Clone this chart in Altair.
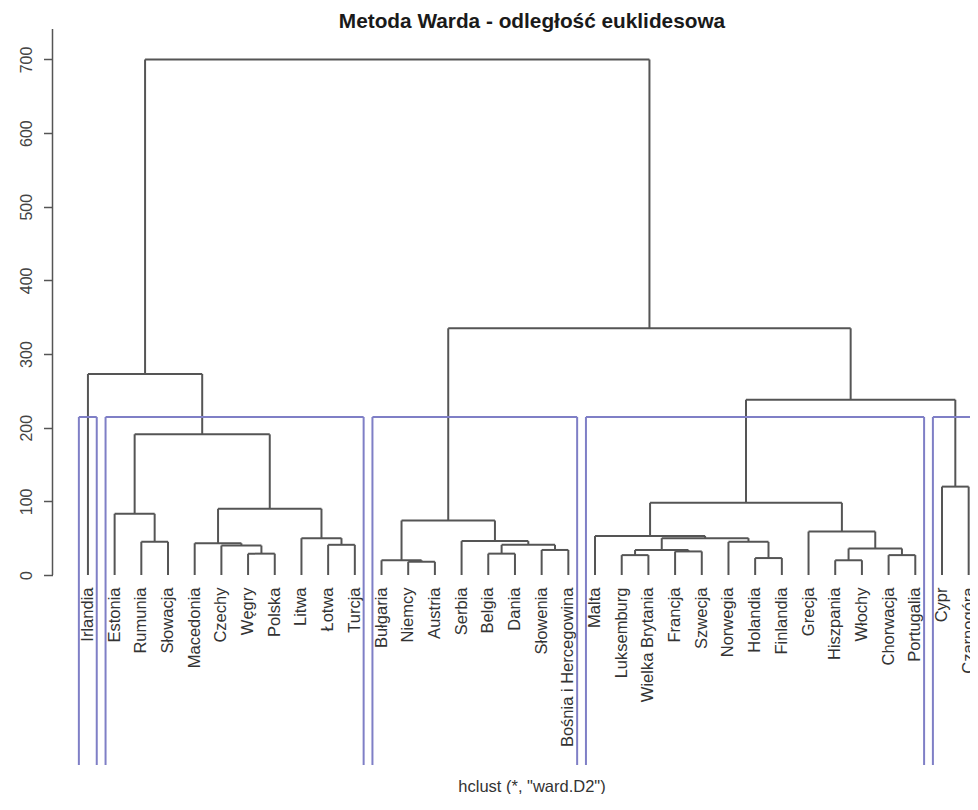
import altair as alt
import pandas as pd

# ---- data ----
labels = ["Irlandia", "Estonia", "Rumunia", "Słowacja", "Macedonia", "Czechy", "Węgry",
          "Polska", "Litwa", "Łotwa", "Turcja", "Bułgaria", "Niemcy", "Austria", "Serbia",
          "Belgia", "Dania", "Słowenia", "Bośnia i Hercegowina", "Malta", "Luksemburg",
          "Wielka Brytania", "Francja", "Szwecja", "Norwegia", "Holandia", "Finlandia",
          "Grecja", "Hiszpania", "Włochy", "Chorwacja", "Portugalia", "Cypr", "Czarnogóra"]

# hclust-style merges: negative = leaf (position in labels), positive = earlier merge
merge_left = [-3, -2, -7, -6, -5, -10, -9, 5, 2, -1,
              -13, -12, -16, -18, 13, -15, 12,
              -21, -23, 18, -26, -25, 20, -20, -29, -31, 25, -28, 24,
              -33, 29, 17, 10]
merge_right = [-4, 1, -8, 3, 4, -11, 6, 7, 8, 9,
               -14, 11, -17, -19, 14, 15, 16,
               -22, -24, 19, -27, 21, 22, 23, -30, -32, 26, 27, 28,
               -34, 30, 31, 32]
merge_height = [45, 83, 29, 40, 43, 41, 50, 90, 191, 273,
                18, 20, 29, 34, 41, 46, 74,
                27, 32, 34, 23, 45, 50, 53, 20, 27, 36, 59, 98,
                120, 238, 335, 700]

y_ticks = [0, 100, 200, 300, 400, 500, 600, 700]
n_clusters = 5
title_text = "Metoda Warda - odległość euklidesowa"
xlab_text = 'hclust (*, "ward.D2")'

# ---- layout of the tree ----
pos = {}
def child_xy(c):
    if c < 0:
        return float(-c), 0.0
    return pos[c]

segs = []
for i, (a, b, h) in enumerate(zip(merge_left, merge_right, merge_height), start=1):
    xa, ya = child_xy(a)
    xb, yb = child_xy(b)
    segs.append(dict(x=xa, x2=xa, y=ya, y2=h))
    segs.append(dict(x=xb, x2=xb, y=yb, y2=h))
    segs.append(dict(x=xa, x2=xb, y=h, y2=h))
    pos[i] = ((xa + xb) / 2.0, float(h))
seg_df = pd.DataFrame(segs)

# ---- rect.hclust boxes ----
Y_MIN, Y_MAX = -258.0, 741.4
X_MIN, X_MAX = -0.328, 34.05
idx_sorted = sorted(range(1, len(merge_height) + 1), key=lambda i: merge_height[i - 1])
removed = set(idx_sorted[-(n_clusters - 1):])
hs = sorted(merge_height, reverse=True)
cut_h = (hs[n_clusters - 2] + hs[n_clusters - 1]) / 2.0

def leaves(c):
    if c < 0:
        return [-c]
    return leaves(merge_left[c - 1]) + leaves(merge_right[c - 1])

rect_segs = []
for i in removed:
    for c in (merge_left[i - 1], merge_right[i - 1]):
        if c > 0 and c in removed:
            continue
        L = leaves(c)
        lo, hi = min(L) - 0.34, max(L) + 0.33
        rect_segs.append(dict(x=lo, x2=lo, y=Y_MIN, y2=cut_h))
        rect_segs.append(dict(x=hi, x2=hi, y=Y_MIN, y2=cut_h))
        rect_segs.append(dict(x=lo, x2=hi, y=cut_h, y2=cut_h))
rect_df = pd.DataFrame(rect_segs)

leaf_df = pd.DataFrame({"x": list(range(1, len(labels) + 1)), "y": [-17.0] * len(labels),
                        "label": labels})
axis_df = pd.DataFrame({"y": [0.0], "y2": [Y_MAX]})

xs = alt.Scale(domain=[X_MIN, X_MAX], nice=False, zero=False)
ys = alt.Scale(domain=[Y_MIN, Y_MAX], nice=False, zero=False)

tree = alt.Chart(seg_df).mark_rule(color="#555555", strokeWidth=2, clip=True).encode(
    x=alt.X("x:Q", scale=xs, axis=None),
    x2="x2:Q",
    y=alt.Y("y:Q", scale=ys, title=None,
            axis=alt.Axis(values=y_ticks, domain=False, grid=False, tickSize=9,
                          tickColor="#555555", tickWidth=1.5, labelAngle=270,
                          labelFontSize=16, labelFont="Liberation Sans",
                          labelColor="#444444", labelPadding=9)),
    y2="y2:Q",
)

boxes = alt.Chart(rect_df).mark_rule(color="#7f7fc6", strokeWidth=2, clip=True).encode(
    x=alt.X("x:Q", scale=xs, axis=None), x2="x2:Q",
    y=alt.Y("y:Q", scale=ys), y2="y2:Q",
)

yaxis_line = alt.Chart(axis_df).mark_rule(color="#555555", strokeWidth=1.5).encode(
    x=alt.value(0), y=alt.Y("y:Q", scale=ys), y2="y2:Q",
)

leaf_text = alt.Chart(leaf_df).mark_text(
    angle=270, align="right", baseline="middle", fontSize=16.5,
    font="Liberation Sans", color="#333333"
).encode(x=alt.X("x:Q", scale=xs, axis=None), y=alt.Y("y:Q", scale=ys), text="label:N")

title = alt.Chart(pd.DataFrame({"t": [title_text]})).mark_text(
    fontSize=20.8, fontWeight="bold", font="Liberation Sans", color="#1a1a1a",
    baseline="middle", align="center"
).encode(x=alt.value(479.5), y=alt.value(-7.5), text="t:N")

xlab = alt.Chart(pd.DataFrame({"t": [xlab_text]})).mark_text(
    fontSize=16.5, font="Liberation Sans", color="#333333",
    baseline="middle", align="center"
).encode(x=alt.value(479.5), y=alt.value(758), text="t:N")

chart = alt.layer(tree, boxes, yaxis_line, leaf_text, title, xlab).properties(
    width=917.5, height=736,
    autosize=alt.AutoSizeParams(type="none"),
    padding={"left": 44.5, "top": 21, "right": 0, "bottom": 29},
).configure(background="white").configure_view(stroke=None)

chart.save("out.html", embed_options={"renderer": "svg", "actions": False})
